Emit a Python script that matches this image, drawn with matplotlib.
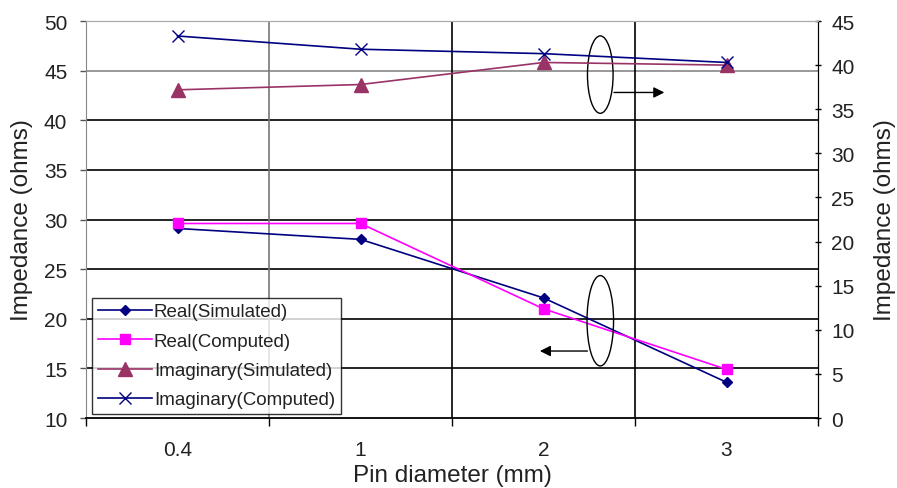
import matplotlib
matplotlib.use("Agg")
import matplotlib.pyplot as plt
from matplotlib.patches import Ellipse

plt.rcParams['font.family'] = ['Liberation Sans', 'DejaVu Sans']

# pin diameters (mm) and impedance values (ohms)
diameters = ['0.4', '1', '2', '3']
real_sim = [29.1, 28.0, 22.1, 13.6]
real_comp = [29.6, 29.6, 21.0, 14.9]
imag_sim = [37.2, 37.8, 40.3, 40.0]
imag_comp = [43.3, 41.8, 41.3, 40.3]

x = list(range(len(diameters)))
txt = '#222222'

fig = plt.figure(figsize=(8.97, 4.89), dpi=100)
ax = fig.add_axes([0.0959, 0.1431, 0.8161, 0.8119])
ax2 = ax.twinx()

# real part on the left axis
l1, = ax.plot(x, real_sim, color='#000080', lw=1.2, marker='D', ms=5.5, label='Real(Simulated)')
l2, = ax.plot(x, real_comp, color='#FF00FF', lw=1.2, marker='s', ms=7.5, label='Real(Computed)')
# imaginary part on the right axis
l3, = ax2.plot(x, imag_sim, color='#993366', lw=1.2, marker='^', ms=9.5, label='Imaginary(Simulated)')
l4, = ax2.plot(x, imag_comp, color='#000080', lw=1.2, marker='x', ms=9, mew=1, label='Imaginary(Computed)')

ax.set_xlim(-0.5, len(diameters) - 0.5)
ax.set_ylim(10, 50)
ax.set_yticks(range(10, 51, 5))
ax2.set_ylim(0, 45)
ax2.set_yticks(range(0, 46, 5))

ax.set_xticks(x)
ax.set_xticklabels(diameters)
ax.set_xticks([i - 0.5 for i in range(len(diameters) + 1)], minor=True)
ax.tick_params(axis='x', which='major', length=0, pad=16, labelsize=15, labelcolor=txt)
ax.tick_params(axis='x', which='minor', length=6, width=1, color='black')
ax.tick_params(axis='y', length=4.5, width=1, pad=9, labelsize=15, labelcolor=txt, color='#555555')
ax2.tick_params(axis='y', length=5, width=1, direction='inout', pad=7, labelsize=15, labelcolor=txt)

# grid: horizontal at each 5 ohms, vertical between categories
for v in range(15, 50, 5):
    ax.axhline(v, color='#888888' if v == 45 else 'black', lw=1.2, zorder=0)
for i, b in enumerate([0.5, 1.5, 2.5]):
    ax.axvline(b, color='#777777' if i == 0 else 'black', lw=1.2, zorder=0)

ax.spines['top'].set_color('#aaaaaa')
ax.spines['left'].set_color('#888888')
ax.spines['bottom'].set_color('black')
ax.spines['bottom'].set_linewidth(1.3)
ax2.spines['top'].set_color('#aaaaaa')
ax2.spines['right'].set_color('black')
ax2.spines['left'].set_visible(False)
ax2.spines['bottom'].set_visible(False)

ax.set_xlabel('Pin diameter (mm)', fontsize=17.5, color=txt)
ax.set_ylabel('Impedance (ohms)', fontsize=17.5, color=txt)
ax2.set_ylabel('Impedance (ohms)', fontsize=17.5, color=txt)
ax.xaxis.set_label_coords(0.5, -0.115)
ax.yaxis.set_label_coords(-0.072, 0.5)
ax2.yaxis.set_label_coords(1.077, 0.5)

# ellipses with arrows pointing to the axis each group belongs to
ax.add_patch(Ellipse((2.31, 44.6), 0.14, 7.8, fill=False, ec='black', lw=1, zorder=5))
ax.annotate('', xy=(2.66, 42.8), xytext=(2.385, 42.8),
            arrowprops=dict(arrowstyle='-|>', color='black', lw=1, mutation_scale=16, shrinkA=0, shrinkB=0))
ax.add_patch(Ellipse((2.31, 19.8), 0.145, 9.1, fill=False, ec='black', lw=1, zorder=5))
ax.annotate('', xy=(1.98, 16.75), xytext=(2.24, 16.75),
            arrowprops=dict(arrowstyle='-|>', color='black', lw=1, mutation_scale=16, shrinkA=0, shrinkB=0))

leg = ax2.legend(handles=[l1, l2, l3, l4], loc='lower left', bbox_to_anchor=(0.008, 0.01),
                 fontsize=13.5, frameon=True, fancybox=False, edgecolor='black',
                 handlelength=2.9, handletextpad=0.1, borderpad=0.3, labelspacing=0.65,
                 borderaxespad=0)
leg.get_frame().set_linewidth(1)
for t in leg.get_texts():
    t.set_color(txt)

fig.savefig('out.png', dpi=100)
